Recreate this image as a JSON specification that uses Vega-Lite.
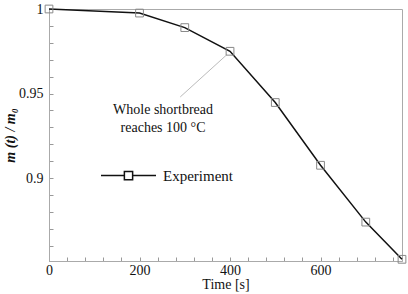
{
  "$schema": "https://vega.github.io/schema/vega-lite/v6.json",
  "width": 353,
  "height": 252,
  "autosize": "none",
  "padding": {"left": 49, "top": 9, "right": 6, "bottom": 33},
  "background": "white",
  "config": {
    "view": {"stroke": "#aaaaaa", "strokeWidth": 1},
    "font": "Liberation Serif",
    "axis": {
      "grid": false,
      "domainColor": "#aaaaaa",
      "tickColor": "#999999",
      "labelFont": "Liberation Serif",
      "labelFontSize": 14,
      "labelColor": "#111111",
      "titleFont": "Liberation Serif",
      "titleFontSize": 14,
      "titleFontWeight": "normal",
      "titleColor": "#111111"
    }
  },
  "datasets": {
    "exp": [
      {"t": 0, "m": 1.0, "series": "Experiment"},
      {"t": 200, "m": 0.9976, "series": "Experiment"},
      {"t": 300, "m": 0.989, "series": "Experiment"},
      {"t": 400, "m": 0.975, "series": "Experiment"},
      {"t": 500, "m": 0.9447, "series": "Experiment"},
      {"t": 600, "m": 0.9076, "series": "Experiment"},
      {"t": 700, "m": 0.874, "series": "Experiment"},
      {"t": 780, "m": 0.852, "series": "Experiment"}
    ]
  },
  "encoding": {
    "x": {
      "field": "t", "type": "quantitative",
      "scale": {"domain": [0, 780], "nice": false, "zero": false},
      "axis": {
        "title": "Time [s]",
        "values": [0,40,80,120,160,200,240,280,320,360,400,440,480,520,560,600,640,680,720,760],
        "labelExpr": "datum.value % 200 == 0 ? datum.value + '' : ''",
        "tickSize": -4,
        "labelPadding": 6,
        "titlePadding": 0,
        "labelOverlap": false,
        "labelFlush": false,
        "labelBound": false
      }
    },
    "y": {
      "field": "m", "type": "quantitative",
      "scale": {"domain": [0.851, 1.0], "nice": false, "zero": false},
      "axis": {
        "title": "m (t) / m₀",
        "titleFontStyle": "italic",
        "titleFontWeight": "bold",
        "values": [0.86,0.87,0.88,0.89,0.9,0.91,0.92,0.93,0.94,0.95,0.96,0.97,0.98,0.99,1],
        "labelExpr": "datum.value == 0.9 || datum.value == 0.95 || datum.value == 1 ? datum.value + '' : ''",
        "tickSize": -4,
        "labelPadding": 10,
        "titlePadding": 1,
        "labelOverlap": false,
        "labelFlush": false,
        "labelBound": false
      }
    }
  },
  "layer": [
    {
      "data": {"name": "exp"},
      "mark": {"type": "line", "color": "#111111", "strokeWidth": 1.5},
      "encoding": {
        "stroke": {
          "field": "series", "type": "nominal",
          "scale": {"range": ["#111111"]},
          "legend": {
            "title": null,
            "orient": "none",
            "legendX": 51,
            "legendY": 138,
            "padding": 0,
            "symbolType": "M-1,0H-0.15M0.15,0H1M-0.15,-0.15H0.15V0.15H-0.15Z",
            "symbolSize": 3025,
            "symbolStrokeWidth": 1.5,
            "symbolFillColor": "transparent",
            "labelFont": "Liberation Serif",
            "labelFontSize": 15,
            "labelColor": "#111111",
            "labelOffset": 6
          }
        }
      }
    },
    {
      "data": {"values": [{"t": 290, "m": 0.948, "t2": 393, "m2": 0.973}]},
      "mark": {"type": "rule", "color": "#bbbbbb", "strokeWidth": 1},
      "encoding": {
        "x2": {"field": "t2"},
        "y2": {"field": "m2"}
      }
    },
    {
      "data": {"name": "exp"},
      "mark": {"type": "point", "shape": "square", "filled": false, "stroke": "#888888", "strokeWidth": 1, "size": 60, "opacity": 1},
      "encoding": {}
    },
    {
      "data": {"values": [{"t": 252, "m": 0.940, "label": ["Whole shortbread", "reaches 100 °C"]}]},
      "mark": {"type": "text", "font": "Liberation Serif", "fontSize": 14, "align": "center", "baseline": "middle", "lineHeight": 18, "color": "#111111"},
      "encoding": {
        "text": {"field": "label"}
      }
    }
  ]
}
